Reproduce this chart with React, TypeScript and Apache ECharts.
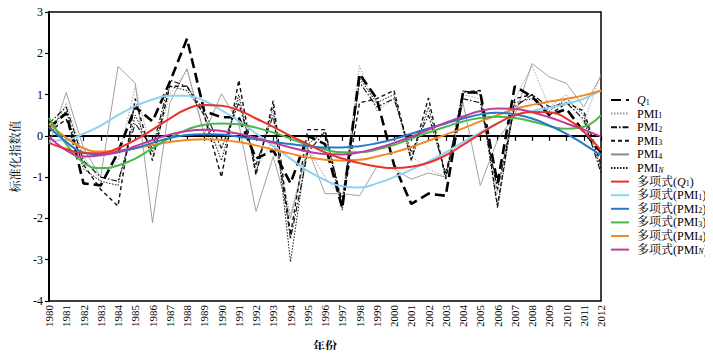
import React, { useEffect, useRef } from "react";
import * as echarts from "echarts";

const years = Array.from({ length: 33 }, (_, i) => String(1980 + i));

const q1 = [0.2, 0.55, -1.15, -1.2, -0.4, 0.7, 0.35, 1.3, 2.35, 0.6, 0.45, 0.45, -0.55, -0.35, -1.15, 0.0, -0.2, -1.75, 1.5, 0.9, -0.7, -1.65, -1.4, -1.45, 1.05, 1.05, -1.15, 1.2, 0.95, 0.5, 0.65, 0.1, -0.4];
const pmi1 = [-0.2, 0.8, -0.5, -1.1, -0.6, 1.2, -0.5, 1.0, 1.6, 0.0, -0.3, 0.9, -0.8, -0.1, -1.9, -0.3, -1.0, -1.5, 1.7, 0.6, 0.9, -0.5, -0.8, -1.0, 1.0, 0.9, -1.4, 0.9, 1.7, 0.7, 1.0, 0.3, 1.5];
const pmi2 = [0.3, 0.7, -0.6, -1.0, -1.1, 0.3, -0.3, 1.35, 1.2, 0.6, -0.3, 0.8, -0.7, 0.5, -2.5, -0.4, 0.1, -1.6, 1.3, 0.7, 0.9, -0.4, 0.5, -0.9, 0.9, 0.8, -1.3, 0.7, 1.0, 0.7, 0.8, 0.4, -0.9];
const pmi3 = [0.1, 0.4, -0.7, -1.3, -1.7, 0.9, -0.6, 1.2, 1.2, 0.5, -1.0, 1.35, -0.95, 0.85, -2.4, 0.15, 0.15, -1.7, 0.8, 0.9, 1.1, -0.58, 0.92, -1.05, 1.06, 1.1, -1.7, 0.9, 1.0, 0.5, 0.8, 0.6, -0.7];
const pmi4 = [-0.2, 1.05, -0.3, -1.0, 1.68, 1.28, -2.1, 0.8, 1.63, 0.05, 1.02, 0.3, -1.83, -0.5, -2.0, -0.3, -1.4, -1.4, -1.45, -0.75, -0.8, -1.05, -0.9, -1.0, 0.8, -1.2, -0.1, 0.5, 1.75, 1.43, 1.27, 0.7, 1.45];
const pmiN = [0.2, 0.6, -0.8, -1.1, -1.2, 0.5, -0.4, 1.2, 1.1, 0.5, -0.6, 1.0, -0.9, 0.7, -3.05, -0.2, 0.1, -1.8, 1.4, 0.8, 1.0, -0.6, 0.7, -1.0, 1.1, 1.0, -1.75, 0.8, 0.9, 0.6, 0.9, 0.5, -0.8];

const polyQ1 = [-0.17, -0.32, -0.42, -0.42, -0.3, -0.1, 0.15, 0.42, 0.65, 0.75, 0.73, 0.62, 0.42, 0.22, 0.0, -0.2, -0.4, -0.55, -0.66, -0.74, -0.78, -0.75, -0.65, -0.47, -0.22, 0.05, 0.3, 0.5, 0.58, 0.57, 0.42, 0.1, -0.35];
const polyPmi1 = [-0.12, -0.1, 0.05, 0.25, 0.5, 0.72, 0.88, 0.97, 0.97, 0.85, 0.62, 0.36, 0.06, -0.25, -0.55, -0.85, -1.07, -1.22, -1.25, -1.15, -1.0, -0.82, -0.62, -0.4, -0.15, 0.08, 0.3, 0.48, 0.6, 0.68, 0.78, 0.9, 1.1];
const polyPmi2 = [0.22, -0.15, -0.4, -0.45, -0.4, -0.3, -0.17, -0.05, 0.02, 0.04, 0.03, -0.02, -0.08, -0.15, -0.2, -0.25, -0.28, -0.28, -0.25, -0.18, -0.08, 0.05, 0.18, 0.3, 0.42, 0.52, 0.56, 0.52, 0.42, 0.25, 0.05, -0.2, -0.47];
const polyPmi3 = [0.43, -0.2, -0.65, -0.78, -0.72, -0.55, -0.3, -0.05, 0.15, 0.27, 0.3, 0.28, 0.2, 0.08, -0.07, -0.22, -0.33, -0.4, -0.4, -0.33, -0.22, -0.07, 0.08, 0.22, 0.35, 0.43, 0.46, 0.43, 0.35, 0.24, 0.17, 0.22, 0.5];
const polyPmi4 = [0.3, -0.05, -0.3, -0.38, -0.36, -0.3, -0.22, -0.15, -0.1, -0.08, -0.1, -0.15, -0.23, -0.33, -0.43, -0.52, -0.58, -0.6, -0.58, -0.5, -0.4, -0.27, -0.12, 0.03, 0.18, 0.35, 0.5, 0.65, 0.75, 0.83, 0.9, 0.98, 1.1];
const polyPmiN = [-0.02, -0.35, -0.5, -0.47, -0.38, -0.25, -0.1, 0.03, 0.12, 0.15, 0.12, 0.05, -0.05, -0.17, -0.28, -0.38, -0.44, -0.45, -0.4, -0.3, -0.17, -0.02, 0.15, 0.32, 0.47, 0.6, 0.66, 0.65, 0.57, 0.45, 0.3, 0.15, -0.02];

const yTicks = [-4, -3, -2, -1, 0, 1, 2, 3];

const legendLabels: Record<string, string> = {
  Q1: "{i|Q}{s|1}",
  PMI1: "PMI{s|1}",
  PMI2: "PMI{s|2}",
  PMI3: "PMI{s|3}",
  PMI4: "PMI{s|4}",
  PMIN: "PMI{si|N}",
  pQ1: "多项式({i|Q}{s|1})",
  pPMI1: "多项式(PMI{s|1})",
  pPMI2: "多项式(PMI{s|2})",
  pPMI3: "多项式(PMI{s|3})",
  pPMI4: "多项式(PMI{s|4})",
  pPMIN: "多项式(PMI{si|N})",
};

const SERIF = "'Liberation Serif', 'Noto Serif CJK SC', 'Noto Sans CJK SC', serif";

export default function App() {
  const ref = useRef<HTMLDivElement>(null);
  useEffect(() => {
    if (!ref.current) return;
    const chart = echarts.init(ref.current, null, { renderer: "svg" });
    const raw = (name: string, data: number[], color: string, width: number, type: any) => ({
      name,
      type: "line",
      data,
      symbol: "none",
      lineStyle: { color, width, type },
      itemStyle: { color },
    });
    const poly = (name: string, data: number[], color: string) => ({
      name,
      type: "line",
      data,
      symbol: "none",
      smooth: 0.5,
      lineStyle: { color, width: 2, type: "solid" },
      itemStyle: { color },
    });
    chart.setOption({
      animation: false,
      backgroundColor: "#fff",
      grid: {
        left: 49,
        right: 112,
        top: 12,
        bottom: 56,
        show: true,
        borderColor: "#000",
        borderWidth: 1.5,
      },
      legend: {
        orient: "vertical",
        left: 605,
        top: 89,
        itemWidth: 18,
        itemHeight: 6,
        itemGap: 1.6,
        itemStyle: { opacity: 0 },
        data: ["Q1", "PMI1", "PMI2", "PMI3", "PMI4", "PMIN", "pQ1", "pPMI1", "pPMI2", "pPMI3", "pPMI4", "pPMIN"],
        formatter: (name: string) => legendLabels[name] || name,
        textStyle: {
          fontFamily: SERIF,
          fontSize: 12,
          color: "#000",
          lineHeight: 12,
          padding: [0, 0, 0, 3],
          rich: {
            i: { fontFamily: SERIF, fontStyle: "italic", fontSize: 12, color: "#000", lineHeight: 12 },
            s: { fontFamily: SERIF, fontSize: 8, color: "#000", verticalAlign: "bottom", lineHeight: 12 },
            si: { fontFamily: SERIF, fontSize: 8, fontStyle: "italic", color: "#000", verticalAlign: "bottom", lineHeight: 12 },
          },
        },
      },
      xAxis: {
        type: "category",
        data: years,
        boundaryGap: false,
        name: "年份",
        nameLocation: "middle",
        nameGap: 40,
        nameTextStyle: { fontFamily: SERIF, fontSize: 12, color: "#000", fontWeight: "bold" },
        axisLine: { lineStyle: { color: "#000", width: 2 } },
        axisTick: { show: true, length: 5, lineStyle: { color: "#000", width: 1.2 }, alignWithLabel: true },
        axisLabel: { rotate: 90, interval: 0, fontFamily: SERIF, fontSize: 11, color: "#000", margin: 4 },
        splitLine: { show: false },
      },
      yAxis: {
        type: "value",
        min: -4,
        max: 3,
        interval: 1,
        name: "标准化指数值",
        nameLocation: "middle",
        nameGap: 24,
        nameRotate: 90,
        nameTextStyle: { fontFamily: SERIF, fontSize: 12, color: "#000" },
        axisLine: { show: true, lineStyle: { color: "#000", width: 2 } },
        axisTick: { show: true, length: 4, lineStyle: { color: "#000", width: 1.2 } },
        axisLabel: {
          fontFamily: SERIF,
          fontSize: 12,
          color: "#000",
          margin: 6,
          formatter: (v: number) => (yTicks.includes(v) ? String(v) : ""),
        },
        splitLine: { show: false },
      },
      series: [
        raw("PMI4", pmi4, "#8a8a8a", 0.8, "solid"),
        raw("PMI1", pmi1, "#9a9a9a", 0.9, [1.5, 1.5]),
        raw("PMIN", pmiN, "#111", 1, [1.5, 1.5]),
        raw("PMI2", pmi2, "#111", 1.1, [6, 2, 1.5, 2]),
        raw("PMI3", pmi3, "#111", 1.4, [4, 3]),
        raw("Q1", q1, "#000", 2.6, [10, 5]),
        poly("pPMI1", polyPmi1, "#8fd3f2"),
        poly("pPMI4", polyPmi4, "#f08a24"),
        poly("pPMI3", polyPmi3, "#4cb84a"),
        poly("pPMI2", polyPmi2, "#2a78c8"),
        poly("pPMIN", polyPmiN, "#c03a9e"),
        poly("pQ1", polyQ1, "#e8352b"),
      ],
    });
    return () => chart.dispose();
  }, []);
  return <div ref={ref} style={{ width: 713, height: 358, margin: "-8px" }} />;
}
